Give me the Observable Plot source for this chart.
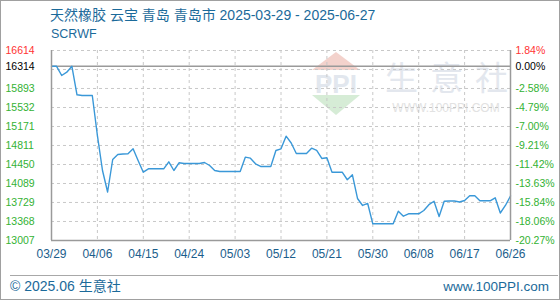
<!DOCTYPE html>
<html><head><meta charset="utf-8">
<script src="https://cdn.jsdelivr.net/npm/d3@7"></script>
<script src="https://cdn.jsdelivr.net/npm/@observablehq/plot@0.6"></script>
<style>
html,body{margin:0;padding:0;background:#fff;}
#wrap{position:relative;width:560px;height:300px;overflow:hidden;font-family:"Liberation Sans",Arial,"Noto Sans CJK SC",sans-serif;}
#border{position:absolute;left:0;top:0;width:558px;height:298px;border:1px solid #a0a0a0;}
#title{position:absolute;left:50px;top:5px;font-size:14px;line-height:20px;color:#1b6a9a;white-space:nowrap;font-family:"Liberation Sans","Noto Sans CJK SC",sans-serif;}
#sub{position:absolute;left:51px;top:26px;font-size:12.5px;line-height:16px;color:#1b6a9a;}
#sep{position:absolute;left:10px;top:275px;width:548px;height:0;border-top:1px solid #a8a8a8;}
#foot{position:absolute;left:10px;top:277px;font-size:14px;line-height:19px;color:#1b6a9a;font-family:"Liberation Sans","Noto Sans CJK SC",sans-serif;}
#url{position:absolute;right:11px;top:277px;font-size:13.5px;line-height:19px;color:#1b6a9a;}
#wm{position:absolute;left:0;top:0;}
#chart{position:absolute;left:0;top:0;}
</style>
</head><body>
<div id="wrap">
  <svg id="wm" width="560" height="300">
    <polygon points="336,52 312,70 360,70" fill="#f3d2cc"/>
    <text x="336" y="93" text-anchor="middle" font-family="Liberation Sans" font-weight="bold" font-size="26" fill="#e2e7ee">PPI</text>
    <polygon points="312,95 360,95 336,115" fill="#d6ecd6"/>
    <text x="385" y="90" font-family="Noto Sans CJK SC" font-size="33" fill="#e3e7ee" letter-spacing="12">生意社</text>
    <text x="446" y="112" text-anchor="middle" font-family="Liberation Sans" font-size="12" fill="#e2e2e2">WWW.100PPI.COM</text>
  </svg>
  <div id="chart"></div>
  <div id="border"></div>
  <div id="title">天然橡胶 云宝 青岛 青岛市 2025-03-29 - 2025-06-27</div>
  <div id="sub">SCRWF</div>
  <div id="sep"></div>
  <div id="foot">© 2025.06 生意社</div>
  <div id="url">www.100PPI.com</div>
</div>
<script>
const values = [
  16314, 16314, 16139, 16202, 16314, 15773, 15760, 15760, 15760, 15000,
  14336, 13928, 14545, 14640, 14650, 14653, 14748, 14520, 14304, 14368,
  14368, 14368, 14368, 14501, 14336, 14482, 14469, 14469, 14469, 14469,
  14488, 14431, 14336, 14317, 14317, 14317, 14317, 14317, 14589, 14570,
  14463, 14412, 14412, 14412, 14716, 14748, 14987, 14858, 14659, 14659,
  14659, 14759, 14716, 14564, 14577, 14304, 14304, 14304, 14160, 14254,
  13805, 13672, 13710, 13324, 13324, 13324, 13324, 13324, 13563, 13468,
  13514, 13514, 13514, 13577, 13687, 13753, 13463, 13753, 13757, 13757,
  13738, 13767, 13856, 13856, 13761, 13761, 13761, 13818, 13529, 13672,
  13852
];
const xTickIdx = [0, 9, 18, 27, 36, 45, 54, 63, 72, 81, 90];
const xTickLabels = ["03/29","04/06","04/15","04/24","05/03","05/12","05/21","05/30","06/08","06/17","06/26"];
const yGrid = [13007, 13368, 13729, 14089, 14450, 14811, 15171, 15532, 15893, 16253, 16614];
const baseValue = 16314;
const leftTicks = [16614, 16314, 15893, 15532, 15171, 14811, 14450, 14089, 13729, 13368, 13007];
const leftLabels = ["16614","16314","15893","15532","15171","14811","14450","14089","13729","13368","13007"];
const rightLabels = ["1.84%","0.00%","-2.58%","-4.79%","-7.00%","-9.21%","-11.42%","-13.63%","-15.84%","-18.06%","-20.27%"];

const RED = "#ff3333", BLACK = "#000000", GREEN = "#33b233";
const labelRows = leftTicks.map((v, i) => ({
  v, left: leftLabels[i], right: rightLabels[i],
  color: i === 0 ? RED : (i === 1 ? BLACK : GREEN)
}));

const chart = Plot.plot({
  width: 560, height: 300,
  marginLeft: 51, marginRight: 50, marginTop: 50, marginBottom: 60,
  style: {background: "transparent", fontFamily: "Liberation Sans, Arial, sans-serif"},
  x: {domain: [0, 90], axis: null},
  y: {domain: [13007, 16614], axis: null},
  color: {type: "identity"},
  marks: [
    Plot.ruleY(yGrid, {stroke: "#c8c8c8", strokeDasharray: "3,3"}),
    Plot.ruleX(xTickIdx.slice(1, -1), {stroke: "#c8c8c8", strokeDasharray: "3,3"}),
    Plot.ruleY([baseValue], {stroke: "#9a9a9a", strokeWidth: 1.5}),
    Plot.line(values, {x: (d, i) => i, y: d => d, stroke: "#3a98d8", strokeWidth: 1.4}),
    Plot.ruleX([xTickIdx[0], xTickIdx[xTickIdx.length - 1]], {stroke: "#9a9a9a", strokeWidth: 1.5}),
    Plot.ruleY([yGrid[0]], {stroke: "#9a9a9a", strokeWidth: 1.5}),
    Plot.text(labelRows, {y: "v", text: "left", fill: "color", frameAnchor: "left", textAnchor: "start", dx: -46, fontSize: 10.5}),
    Plot.text(labelRows, {y: "v", text: "right", fill: "color", frameAnchor: "right", textAnchor: "start", dx: 5, fontSize: 10.5}),
    Plot.text(xTickIdx, {x: d => d, text: (d, i) => xTickLabels[i], frameAnchor: "bottom", dy: 17, fill: "#1b5e8c", fontSize: 12})
  ]
});
document.getElementById("chart").appendChild(chart);
</script>
</body></html>
